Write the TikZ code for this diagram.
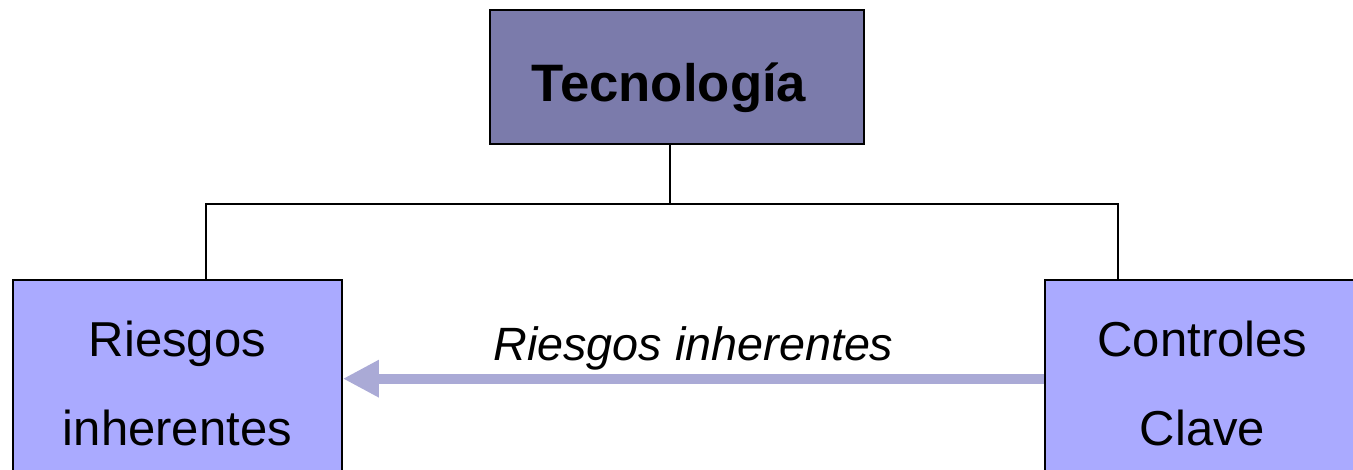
\documentclass[tikz,border=0pt]{standalone}
\usepackage{fontspec}
\setmainfont{Liberation Sans}
\usepackage{tikz}
\usetikzlibrary{arrows.meta}
\usepackage{xcolor}
\definecolor{techfill}{RGB}{123,123,171}
\definecolor{boxfill}{RGB}{170,170,255}
\definecolor{arrowfill}{RGB}{170,170,214}

\begin{document}
\begin{tikzpicture}[x=0.02cm, y=-0.02cm,
    topbox/.style={draw=black, line width=1.1pt, fill=techfill, minimum width=7.48cm, minimum height=2.68cm, text height=1cm, text depth=0pt, font=\fontsize{30}{36}\selectfont\bfseries},
    lowbox/.style={draw=black, line width=1.1pt, fill=boxfill, anchor=north west, align=center, inner ysep=0.82cm, inner xsep=0pt, font=\fontsize{27.9}{50.9}\selectfont},
    link/.style={line width=1.1pt},
    fatarrow/.style={arrowfill, line width=0.2cm, -{Triangle[length=0.72cm, width=0.7cm]}}]

    \useasboundingbox (0,0) rectangle (1353,470);

    % Draw the three boxes
    \node[topbox] (tech) at (677,77) {Tecnología\hspace*{0.32cm}};
    \node[lowbox, minimum width=6.58cm] (risk) at (12,279) {Riesgos\\inherentes};
    \node[lowbox, minimum width=6.3cm] (ctrl) at (1044,279) {Controles\\Clave};

    % Draw the tree lines
    \coordinate (bus) at (670,204);
    \coordinate (busL) at (206,204);
    \coordinate (busR) at (1118,204);
    \draw[link] (bus |- tech.south) -- (bus);
    \draw[link] (busL |- risk.north) -- (busL) -- (busR) -- (busR |- ctrl.north);

    % Draw the arrow from controls to risks
    \draw[fatarrow] ([yshift=0.1cm]ctrl.west) -- ([yshift=0.1cm]risk.east)
        node[midway, above, inner sep=0.06cm, text=black, font=\fontsize{26.6}{30}\selectfont\itshape] (note) {Riesgos inherentes};
\end{tikzpicture}
\end{document}
